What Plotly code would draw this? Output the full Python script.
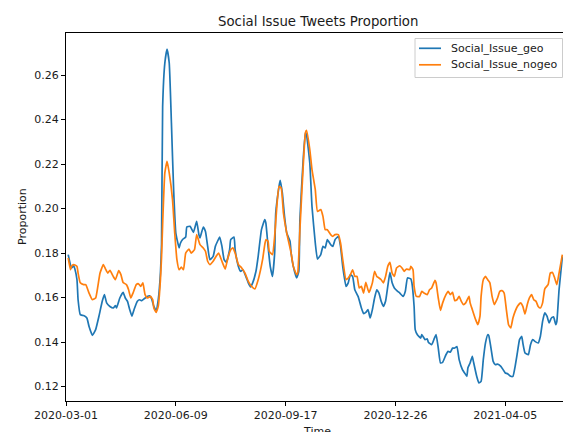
import pandas as pd
import plotly.graph_objects as go

START = pd.Timestamp("2020-03-01")

# Smoothed daily share of social-issue tweets, keyed by days since 2020-03-01
geo_days = [2, 4, 5, 7, 8, 10, 11, 13, 16, 19, 21, 24, 27, 30, 33, 35, 37, 40, 43, 45,
            46, 49, 52, 54, 56, 58, 60, 62, 65, 67, 69, 71, 74, 76, 78, 80, 82, 84, 86, 87,
            88, 90, 92, 94, 96, 98, 100, 103, 104, 106, 109, 110, 113, 116, 119, 121, 122, 125, 127, 129,
            131, 134, 136, 138, 140, 142, 144, 146, 149, 150, 153, 154, 157, 159, 161, 164, 166, 168, 170, 173,
            175, 178, 181, 182, 184, 186, 188, 190, 191, 194, 195, 197, 199, 201, 204, 205, 207, 210, 212, 213,
            216, 218, 219, 222, 224, 227, 229, 232, 234, 236, 238, 241, 243, 245, 248, 250, 252, 255, 257, 259,
            261, 263, 266, 269, 271, 273, 275, 277, 279, 281, 283, 285, 287, 289, 291, 293, 295, 297, 299, 302,
            304, 307, 309, 311, 314, 315, 317, 318, 320, 323, 324, 327, 329, 330, 333, 335, 337, 339, 341, 343,
            346, 348, 350, 352, 354, 356, 358, 361, 363, 365, 366, 368, 370, 371, 374, 376, 378, 380, 382, 384,
            385, 387, 389, 391, 393, 396, 398, 400, 402, 405, 407, 409, 411, 413, 415, 416, 418, 421, 423, 425,
            427, 430, 432, 434, 436, 438, 440, 442, 444, 446, 447, 449, 452]
geo_share = [0.1793, 0.1748, 0.1733, 0.1743, 0.1730, 0.1680, 0.1590, 0.1523, 0.1519, 0.1508,
             0.1470, 0.1430, 0.1456, 0.1516, 0.1583, 0.1613, 0.1576, 0.1560, 0.1553, 0.1564,
             0.1553, 0.1598, 0.1623, 0.1598, 0.1583, 0.1546, 0.1516, 0.1546, 0.1583, 0.1590,
             0.1586, 0.1594, 0.1605, 0.1608, 0.1594, 0.1560, 0.1543, 0.1590, 0.1710, 0.1840,
             0.2459, 0.2654, 0.2717, 0.2654, 0.2385, 0.2085, 0.1890, 0.1823, 0.1842, 0.1860,
             0.1872, 0.1917, 0.1920, 0.1893, 0.1942, 0.1883, 0.1868, 0.1917, 0.1897, 0.1830,
             0.1770, 0.1785, 0.1830, 0.1853, 0.1872, 0.1830, 0.1770, 0.1758, 0.1815, 0.1860,
             0.1872, 0.1815, 0.1740, 0.1718, 0.1725, 0.1692, 0.1666, 0.1648, 0.1666, 0.1718,
             0.1785, 0.1905, 0.1950, 0.1935, 0.1830, 0.1740, 0.1695, 0.1800, 0.1980, 0.2100,
             0.2127, 0.2070, 0.1965, 0.1890, 0.1853, 0.1800, 0.1740, 0.1688, 0.1718, 0.1950,
             0.2220, 0.2340, 0.2332, 0.2205, 0.2010, 0.1845, 0.1773, 0.1793, 0.1830, 0.1823,
             0.1860, 0.1838, 0.1830, 0.1860, 0.1875, 0.1830, 0.1740, 0.1650, 0.1666, 0.1703,
             0.1695, 0.1635, 0.1605, 0.1553, 0.1528, 0.1533, 0.1546, 0.1508, 0.1546, 0.1598,
             0.1635, 0.1620, 0.1583, 0.1560, 0.1583, 0.1650, 0.1713, 0.1666, 0.1643, 0.1628,
             0.1620, 0.1605, 0.1628, 0.1688, 0.1684, 0.1666, 0.1560, 0.1456, 0.1433, 0.1418,
             0.1433, 0.1411, 0.1414, 0.1399, 0.1388, 0.1411, 0.1433, 0.1373, 0.1306, 0.1309,
             0.1343, 0.1358, 0.1354, 0.1373, 0.1373, 0.1380, 0.1321, 0.1276, 0.1261, 0.1246,
             0.1284, 0.1306, 0.1336, 0.1313, 0.1246, 0.1216, 0.1223, 0.1321, 0.1396, 0.1433,
             0.1429, 0.1373, 0.1313, 0.1298, 0.1301, 0.1291, 0.1276, 0.1261, 0.1258, 0.1246,
             0.1246, 0.1291, 0.1351, 0.1411, 0.1426, 0.1396, 0.1351, 0.1343, 0.1388, 0.1411,
             0.1403, 0.1396, 0.1426, 0.1493, 0.1531, 0.1516, 0.1486, 0.1508, 0.1513, 0.1478,
             0.1493, 0.1635, 0.1785]

nogeo_days = [2, 4, 5, 7, 10, 11, 13, 16, 18, 21, 24, 27, 29, 31, 34, 36, 38, 40, 43, 45,
              48, 50, 52, 55, 57, 59, 61, 64, 66, 68, 70, 72, 74, 77, 79, 80, 82, 84, 86, 87,
              88, 90, 92, 94, 97, 99, 101, 103, 105, 107, 109, 112, 114, 117, 119, 122, 125, 127, 129, 131,
              134, 137, 139, 142, 145, 147, 150, 152, 154, 157, 160, 163, 166, 169, 172, 175, 179, 181, 182, 184,
              185, 188, 190, 192, 194, 196, 198, 201, 203, 205, 207, 210, 211, 213, 216, 218, 219, 222, 224, 227,
              229, 232, 234, 236, 238, 241, 243, 245, 248, 250, 252, 255, 257, 259, 261, 263, 265, 267, 269, 271,
              273, 275, 276, 279, 281, 283, 285, 287, 289, 291, 293, 295, 297, 299, 301, 304, 306, 308, 310, 313,
              314, 316, 317, 319, 322, 324, 326, 329, 331, 333, 336, 337, 339, 341, 343, 346, 348, 350, 352, 354,
              356, 358, 360, 362, 364, 367, 368, 370, 373, 375, 377, 378, 380, 382, 384, 386, 388, 390, 393, 395,
              397, 399, 401, 403, 405, 407, 409, 411, 414, 416, 418, 420, 422, 424, 426, 428, 430, 432, 434, 436,
              439, 441, 443, 445, 447, 449, 452]
nogeo_share = [0.1778, 0.1725, 0.1740, 0.1748, 0.1740, 0.1710, 0.1666, 0.1658, 0.1658, 0.1620,
               0.1590, 0.1598, 0.1650, 0.1710, 0.1748, 0.1728, 0.1710, 0.1722, 0.1695, 0.1680,
               0.1721, 0.1703, 0.1668, 0.1658, 0.1635, 0.1598, 0.1620, 0.1658, 0.1662, 0.1650,
               0.1666, 0.1613, 0.1598, 0.1605, 0.1590, 0.1553, 0.1533, 0.1560, 0.1680, 0.1780,
               0.1930, 0.2160, 0.2212, 0.2160, 0.2040, 0.1890, 0.1770, 0.1725, 0.1737, 0.1725,
               0.1800, 0.1818, 0.1800, 0.1815, 0.1883, 0.1838, 0.1823, 0.1808, 0.1763, 0.1748,
               0.1763, 0.1788, 0.1800, 0.1763, 0.1728, 0.1770, 0.1815, 0.1823, 0.1800, 0.1748,
               0.1733, 0.1710, 0.1673, 0.1650, 0.1639, 0.1680, 0.1770, 0.1838, 0.1860, 0.1853,
               0.1808, 0.1793, 0.1875, 0.2010, 0.2100, 0.2092, 0.1980, 0.1890, 0.1845, 0.1800,
               0.1740, 0.1703, 0.1710, 0.1905, 0.2190, 0.2340, 0.2351, 0.2265, 0.2175, 0.2085,
               0.1987, 0.1995, 0.1965, 0.1905, 0.1905, 0.1883, 0.1875, 0.1883, 0.1883, 0.1845,
               0.1770, 0.1680, 0.1688, 0.1703, 0.1725, 0.1695, 0.1695, 0.1643, 0.1650, 0.1620,
               0.1668, 0.1635, 0.1623, 0.1666, 0.1718, 0.1695, 0.1688, 0.1680, 0.1666, 0.1695,
               0.1740, 0.1758, 0.1710, 0.1695, 0.1733, 0.1743, 0.1733, 0.1718, 0.1728, 0.1725,
               0.1740, 0.1725, 0.1650, 0.1605, 0.1605, 0.1628, 0.1620, 0.1613, 0.1635, 0.1643,
               0.1677, 0.1666, 0.1598, 0.1542, 0.1576, 0.1613, 0.1628, 0.1613, 0.1623, 0.1586,
               0.1590, 0.1605, 0.1583, 0.1568, 0.1576, 0.1605, 0.1576, 0.1546, 0.1501, 0.1478,
               0.1516, 0.1605, 0.1680, 0.1695, 0.1680, 0.1666, 0.1605, 0.1568, 0.1598, 0.1628,
               0.1631, 0.1620, 0.1546, 0.1478, 0.1463, 0.1508, 0.1538, 0.1560, 0.1576, 0.1560,
               0.1526, 0.1568, 0.1598, 0.1613, 0.1590, 0.1583, 0.1560, 0.1553, 0.1576, 0.1639,
               0.1658, 0.1710, 0.1713, 0.1688, 0.1658, 0.1710, 0.1793]

x_tick_labels = ["2020-03-01", "2020-06-09", "2020-09-17", "2020-12-26", "2021-04-05"]
y_tick_values = [0.12, 0.14, 0.16, 0.18, 0.20, 0.22, 0.24, 0.26]
series_names = ["Social_Issue_geo", "Social_Issue_nogeo"]
series_colors = ["#1f77b4", "#ff7f0e"]

x_range = [START, pd.Timestamp("2021-05-27 14:00")]
y_range = [0.1135, 0.2789]

# canvas and plot-area geometry (pixels)
W, H = 563, 432
L, R, T, B = 66, 563, 33, 401
FONT = "DejaVu Sans"
TEXT = "#1a1a1a"


def px(xp):
    return (xp - L) / (R - L)


def py(yp):
    return (B - yp) / (B - T)


geo_dates = START + pd.to_timedelta(geo_days, unit="D")
nogeo_dates = START + pd.to_timedelta(nogeo_days, unit="D")

fig = go.Figure()
for name, dates, vals, color in zip(series_names,
                                     [geo_dates, nogeo_dates],
                                     [geo_share, nogeo_share],
                                     series_colors):
    fig.add_trace(go.Scatter(
        x=dates, y=vals, mode="lines", name=name,
        line=dict(color=color, width=1.7, shape="spline", smoothing=0.4),
        showlegend=False,
    ))

tick_dates = [pd.Timestamp(t) for t in x_tick_labels]

fig.update_layout(
    width=W, height=H,
    margin=dict(l=L, r=W - R, t=T, b=H - B, pad=0),
    paper_bgcolor="white", plot_bgcolor="white",
    font=dict(family=FONT, size=11, color=TEXT),
    xaxis=dict(
        range=x_range, tickmode="array", tickvals=tick_dates, ticktext=x_tick_labels,
        showgrid=False, zeroline=False, showline=True, linecolor="black", linewidth=1,
        mirror=True, ticks="outside", ticklen=4, tickwidth=1, tickcolor="black",
        tickfont=dict(size=11, color=TEXT),
    ),
    yaxis=dict(
        range=y_range, tickmode="array", tickvals=y_tick_values,
        ticktext=[f"{v:.2f}" for v in y_tick_values],
        showgrid=False, zeroline=False, showline=True, linecolor="black", linewidth=1,
        ticks="outside", ticklen=4, tickwidth=1, tickcolor="black",
        tickfont=dict(size=11, color=TEXT),
    ),
)

annotations = [
    dict(text="Social Issue Tweets Proportion", x=px(318), y=py(21),
         font=dict(size=13.3, color=TEXT)),
    dict(text="Time", x=px(317), y=py(423), yanchor="top",
         font=dict(size=11, color=TEXT)),
    dict(text="Proportion", x=px(22), y=py(217), textangle=-90,
         font=dict(size=11, color=TEXT)),
]

# legend box in the upper right corner
leg_left, leg_right, leg_top, leg_bottom = 415, 562.5, 38.5, 77.5
shapes = [dict(type="rect", xref="paper", yref="paper", layer="above",
               x0=px(leg_left), x1=px(leg_right), y0=py(leg_bottom), y1=py(leg_top),
               line=dict(color="#cccccc", width=1), fillcolor="rgba(255,255,255,0.8)")]
for i, (name, color) in enumerate(zip(series_names, series_colors)):
    row = 48.3 + 16.5 * i
    shapes.append(dict(type="line", xref="paper", yref="paper", layer="above",
                       x0=px(419), x1=px(441), y0=py(row), y1=py(row),
                       line=dict(color=color, width=1.7)))
    annotations.append(dict(text=name, x=px(449), y=py(row), xanchor="left",
                            font=dict(size=11, color=TEXT)))

for a in annotations:
    a.setdefault("xref", "paper")
    a.setdefault("yref", "paper")
    a.setdefault("showarrow", False)
    a.setdefault("xanchor", "center")
    a.setdefault("yanchor", "middle")

fig.update_layout(annotations=annotations, shapes=shapes)
fig.write_html("out.html")
